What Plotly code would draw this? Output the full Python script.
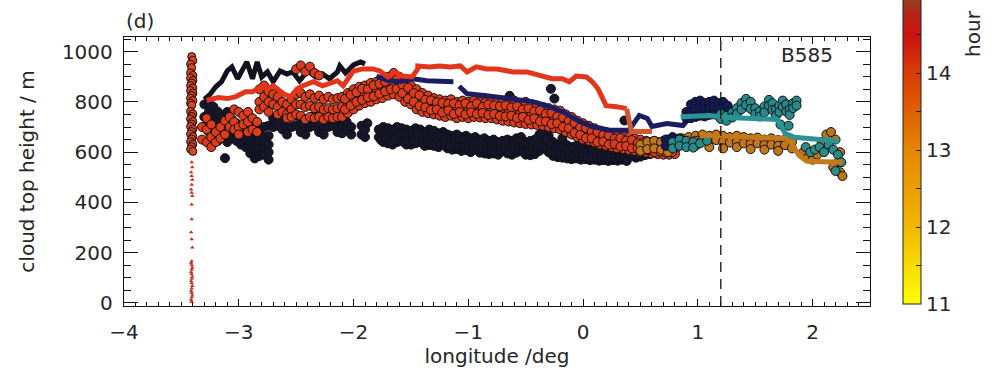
import plotly.graph_objects as go

# ---------------- data: longitude (deg) / cloud top height (m) ----------------

# small triangles (hour ~14.5) along the vertical profile near -3.41
tri_x = [-3.41, -3.405, -3.415, -3.41, -3.405, -3.41, -3.415, -3.41, -3.405, -3.41, -3.41,
         -3.415, -3.41, -3.405, -3.41, -3.415, -3.41, -3.405, -3.41, -3.415, -3.41, -3.405,
         -3.41, -3.415, -3.41, -3.405, -3.41, -3.415, -3.41, -3.405, -3.41, -3.415, -3.41]
tri_y = [560, 540, 520, 505, 490, 470, 451, 438, 426, 392, 333, 281, 254, 221, 166, 158,
         150, 140, 132, 122, 114, 104, 96, 86, 78, 68, 58, 48, 40, 30, 22, 12, 4]

# circles of the same profile
col_x = [-3.41, -3.40, -3.42, -3.41, -3.42, -3.40, -3.42, -3.40, -3.41, -3.42, -3.40, -3.42,
         -3.40, -3.41, -3.42, -3.40, -3.42, -3.41, -3.42, -3.40, -3.41, -3.42, -3.40, -3.41,
         -3.42, -3.40, -3.41, -3.42, -3.40, -3.41, -3.42, -3.40, -3.41, -3.42, -3.40]
col_y = [980, 965, 950, 936, 915, 905, 895, 885, 875, 865, 855, 845, 835, 825, 815, 805,
         795, 787, 762, 752, 742, 732, 722, 712, 702, 692, 682, 672, 662, 652, 642, 632,
         622, 612, 603]

# dark (late) retrievals, west part: station longitude -> heights found there
dark_w_x = [-3.30, -3.26, -3.22, -3.18, -3.14, -3.10, -3.06, -3.02, -2.98, -2.94, -2.90,
            -2.86, -2.82, -2.78, -2.74, -3.12,
            -2.70, -2.66, -2.62, -2.58, -2.54, -2.50, -2.46, -2.42, -2.38, -2.34, -2.30,
            -2.26, -2.22, -2.18, -2.14, -2.10, -2.06, -2.02, -1.93, -1.90, -1.88]
dark_w_y = [[790, 740, 700], [800, 760, 720, 680], [780, 740, 700, 660], [760, 720, 680, 645],
            [740, 700, 665], [760, 715, 675, 640], [730, 690, 655], [715, 680, 645],
            [700, 665, 630], [690, 650, 620], [700, 660, 625, 595], [680, 640, 605, 575],
            [690, 650, 615, 585], [700, 660, 620, 590], [705, 665, 630, 600, 570], [576],
            [735, 700], [745, 705], [720, 690], [700, 670], [740, 700], [745, 705], [715, 680],
            [700, 670], [735, 700], [745, 705], [715, 680], [700, 670], [735, 700], [745, 705],
            [715, 680], [705, 675], [720, 690], [700, 670], [705, 670], [690, 660], [715]]

# dark retrievals, main band
dark_b_x = [-1.78, -1.74, -1.70, -1.66, -1.62, -1.58, -1.54, -1.50, -1.46, -1.42, -1.38,
            -1.34, -1.30, -1.26, -1.22, -1.18, -1.14, -1.10, -1.06, -1.02, -0.98, -0.94,
            -0.90, -0.86, -0.82, -0.78, -0.74, -0.70, -0.66, -0.62, -0.58, -0.54, -0.50,
            -0.46, -0.42, -0.38, -0.34, -0.30, -0.26, -0.22, -0.18, -0.14, -0.10, -0.06,
            -0.02, 0.02, 0.06, 0.10, 0.14, 0.18, 0.22, 0.26, 0.30, 0.34, 0.38, 0.42, 0.46,
            0.50, 0.54, 0.58, 0.62, 0.66, 0.70, 0.74, 0.78, 0.82]
dark_b_y = [[690, 660], [700, 665, 640], [695, 660, 635], [690, 655, 630], [700, 665, 640],
            [695, 660], [690, 655, 630], [685, 655, 630], [695, 660, 635], [690, 655],
            [680, 650, 625], [690, 655, 628], [685, 650, 625], [675, 645, 620], [680, 648],
            [670, 640, 615], [665, 635, 610], [670, 640, 612], [660, 632, 605], [665, 635, 608],
            [655, 628, 600], [660, 630], [650, 622, 598], [655, 625, 595], [645, 618, 592],
            [650, 620, 595], [640, 615, 590], [645, 618], [650, 620, 595], [645, 615, 590],
            [655, 625, 598], [660, 632, 605], [640, 612, 590], [645, 615, 588], [650, 620, 592],
            [670, 638, 605], [690, 650, 615], [665, 630, 600], [640, 610, 585], [630, 605, 580],
            [625, 600, 578], [628, 602, 575], [620, 598, 572], [625, 600, 575], [618, 595, 570],
            [620, 596, 572], [615, 592, 568], [618, 594, 570], [612, 590, 566], [616, 592, 568],
            [610, 588, 565], [615, 590, 568], [612, 588, 566], [618, 592, 570], [615, 590, 568],
            [620, 595], [625, 600, 578], [630, 605, 582], [635, 610, 588], [640, 615, 592],
            [645, 620], [640, 615, 595], [645, 620], [650, 628], [655, 632], [650, 630]]
dark_m_x = [-1.76, -1.72, -1.68, -1.64, -1.60, -1.56, -1.52, -1.48, -1.44, -1.40, -1.36,
            -1.32, -1.28, -1.24, -1.20, -1.16, -1.12, -1.08, -1.04, -1.00, -0.96, -0.92,
            -0.88, -0.84, -0.80, -0.76, -0.72, -0.68, -0.64, -0.60, -0.56, -0.52, -0.48,
            -0.44, -0.40, -0.36, -0.32, -0.28, -0.24, -0.20, -0.16, -0.12, -0.08, -0.04,
            0.00, 0.04, 0.08, 0.12, 0.16, 0.20, 0.24, 0.28, 0.32, 0.36, 0.40, 0.44, 0.48,
            0.52, 0.56, 0.60, 0.64, 0.68, 0.72, 0.76, 0.80]
dark_m_y = [[682, 648], [678, 652], [672, 642], [684, 648], [676, 645], [670, 640], [668, 642],
            [675, 645], [672, 640], [668, 636], [670, 640], [664, 636], [660, 632], [662, 630],
            [655, 626], [650, 622], [654, 624], [648, 618], [650, 620], [642, 614], [646, 616],
            [638, 610], [640, 608], [632, 606], [636, 604], [630, 602], [634, 606], [636, 608],
            [630, 600], [640, 610], [645, 618], [628, 600], [630, 602], [636, 606], [655, 620],
            [670, 632], [652, 618], [624, 596], [618, 590], [614, 588], [615, 588], [610, 584],
            [612, 586], [606, 582], [608, 584], [604, 580], [606, 580], [602, 578], [604, 578],
            [600, 576], [602, 578], [600, 576], [604, 580], [602, 578], [608, 584], [612, 588],
            [618, 592], [622, 596], [626, 602], [632, 606], [628, 604], [632, 608], [638, 612],
            [640, 616], [642, 620]]

# isolated dark retrievals
dark_o_x = [-0.64, -0.28, -0.25, -0.18, 0.36, 0.38, -0.05]
dark_o_y = [824, 852, 813, 655, 726, 565, 700]

# red (hour ~14.5) retrievals
red_x = [-3.32, -3.28, -3.24, -3.20, -3.16, -3.12, -3.08, -3.04, -3.00, -2.96, -2.92, -2.88,
         -2.84,
         -2.82, -2.78, -2.74, -2.70, -2.66, -2.62, -2.58, -2.54, -2.50, -2.46, -2.42, -2.38,
         -2.34, -2.30, -2.26, -2.22, -2.18, -2.14,
         -2.50, -2.46, -2.42, -2.38, -2.34, -2.30,
         -2.10, -2.05, -2.00, -1.95, -1.90, -1.85, -1.80, -1.75, -1.70, -1.65, -1.60, -1.55,
         -1.50, -1.45, -1.40, -1.35, -1.30, -1.25, -1.20, -1.15, -1.10, -1.05, -1.00, -0.95,
         -0.90, -0.85, -0.80, -0.75, -0.70, -0.65, -0.60, -0.55, -0.50, -0.45, -0.40, -0.35,
         -0.30, -0.25, -0.20, -0.15, -0.10, -0.05, 0.00, 0.05, 0.10, 0.15, 0.20, 0.25, 0.30,
         0.35, 0.40, 0.45, 0.50, 0.55, 0.60, 0.65, 0.70, 0.75, 0.80]
red_y = [[700, 650], [735, 690, 640], [710, 660, 620], [680, 640], [700, 655], [725, 670],
         [740, 700], [770, 720, 690], [760, 700, 670], [745, 710], [760, 720, 680],
         [735, 690], [720, 680],
         [850, 800, 770], [865, 820, 780], [840, 800, 760], [830, 790], [820, 780, 750],
         [800, 760], [790, 750, 735], [810, 770, 740], [830, 790, 750], [835, 790, 745],
         [820, 780, 730], [830, 785, 740], [815, 775, 735], [825, 780, 740], [810, 770, 730],
         [820, 775, 740], [810, 770, 735], [815, 775, 740],
         [930], [945], [920], [940], [915], [905],
         [820, 780, 740], [835, 795, 755], [850, 810, 770], [860, 820, 785], [865, 830, 795],
         [875, 835, 800], [880, 845, 810], [890, 850, 815], [900, 860, 825], [915, 870, 830],
         [900, 860, 820], [880, 840, 800], [865, 830, 790], [850, 810, 770], [835, 800, 760],
         [825, 790, 755], [815, 785, 750], [810, 780, 745], [805, 775, 740], [810, 780, 745],
         [800, 770, 735], [805, 772, 740], [800, 768, 735], [805, 770, 740], [800, 768, 738],
         [798, 765, 735], [802, 768, 735], [800, 765, 730], [805, 762, 725], [800, 760, 722],
         [805, 760, 718], [795, 755, 715], [800, 752, 712], [790, 748, 710], [785, 745, 708],
         [780, 740, 705], [775, 735, 700], [770, 732, 695], [765, 725, 690], [750, 712, 680],
         [740, 705, 670], [725, 690, 660], [715, 680, 650], [705, 672, 645], [695, 665, 638],
         [685, 655, 630], [680, 650, 625], [672, 645, 620], [668, 640, 615], [662, 635, 612],
         [660, 632, 608], [655, 628, 605], [650, 622, 600], [645, 618, 598], [640, 615, 595],
         [635, 612, 592], [630, 610, 590], [625, 607, 590], [620, 605, 592]]
red_m_x = [-2.075, -2.025, -1.975, -1.925, -1.875, -1.825, -1.775, -1.725, -1.675, -1.625,
           -1.575, -1.525, -1.475, -1.425, -1.375, -1.325, -1.275, -1.225, -1.175, -1.125,
           -1.075, -1.025, -0.975, -0.925, -0.875, -0.825, -0.775, -0.725, -0.675, -0.625,
           -0.575, -0.525, -0.475, -0.425, -0.375, -0.325, -0.275, -0.225, -0.175, -0.125,
           -0.075, -0.025, 0.025, 0.075, 0.125, 0.175, 0.225, 0.275, 0.325, 0.375, 0.425,
           0.475, 0.525, 0.575, 0.625, 0.675, 0.725, 0.775]
red_m_y = [[812, 770], [828, 785], [838, 800], [852, 808], [850, 818], [866, 822], [872, 832],
           [880, 842], [895, 850], [888, 852], [868, 835], [856, 812], [835, 800], [826, 784],
           [808, 778], [806, 768], [798, 770], [796, 758], [792, 766], [794, 752], [786, 760],
           [794, 750], [782, 758], [794, 752], [780, 756], [790, 748], [786, 752], [782, 744],
           [786, 742], [778, 745], [782, 736], [770, 740], [774, 728], [762, 734], [766, 722],
           [752, 722], [756, 712], [742, 715], [738, 700], [724, 695], [716, 676], [698, 668],
           [696, 656], [682, 655], [680, 640], [668, 642], [666, 630], [654, 632], [656, 622],
           [646, 624], [648, 615], [636, 614], [638, 606], [628, 608], [630, 600], [620, 602],
           [622, 598], [612, 600]]

# blue patch (around the dashed line)
blue_x = [0.72, 0.78, 0.84, 0.90, 0.94, 0.98, 1.02, 1.06, 1.10, 1.14, 1.18, 1.22, 1.26]
blue_y = [[650, 625], [660, 632], [655, 628], [760, 735], [790, 760, 735], [800, 770, 740],
          [805, 775, 745], [795, 770, 742], [800, 775, 748], [805, 780, 750], [795, 770, 745],
          [800, 775], [785, 760]]

# teal retrievals
teal_x = [0.78, 0.84, 0.90, 0.96, 1.02, 1.08, 1.20, 1.25, 1.30, 1.34, 1.38, 1.42, 1.46, 1.50,
          1.54, 1.58, 1.62, 1.65, 1.68, 1.71, 1.74, 1.77, 1.80, 1.83, 1.86, 1.72, 1.79]
teal_y = [[640, 615], [650, 625], [645, 620], [640, 618], [635], [645], [752, 732],
          [745, 725], [758, 738], [775, 752], [795, 770], [812, 788], [800, 772], [775, 752],
          [762, 742], [782, 758], [808, 785], [795, 768], [770, 745], [785, 760], [805, 780],
          [790, 762], [770, 748], [795, 775], [805, 785], [710], [705]]

# orange-brown retrievals
orng_x = [0.50, 0.56, 0.62, 0.68, 0.74, 0.80, 0.86, 0.92, 0.98, 1.04, 1.10, 1.16, 1.22, 1.28,
          1.34, 1.40, 1.46, 1.52, 1.58, 1.64, 1.70, 1.76, 1.82]
orng_y = [[630, 605], [640, 612], [645, 615], [640, 610], [648, 618, 600], [650, 625],
          [655, 630], [660, 640], [665, 645, 625], [670, 650], [665, 645, 620], [670, 648],
          [665, 640, 615], [660, 638], [665, 642, 620], [660, 635], [655, 632, 612],
          [658, 635], [650, 628, 610], [655, 630], [648, 625, 605], [650, 628], [640, 615]]

# east end of the track
east_orng_x = [1.92, 1.96, 2.00, 2.04, 2.08, 2.12, 2.16, 2.20, 2.24, 2.22, 2.18, 2.24, 2.26]
east_orng_y = [600, 580, 570, 590, 640, 670, 680, 650, 600, 560, 540, 520, 505]
east_teal_x = [1.94, 1.98, 2.02, 2.06, 2.10, 2.14, 2.18, 2.22, 2.25, 2.20]
east_teal_y = [620, 600, 610, 620, 600, 630, 610, 590, 560, 525]

# mean-height tracks (thick lines)
zz_x = [-3.30, -3.25, -3.20, -3.15, -3.10, -3.06, -3.01, -2.97, -2.93, -2.88, -2.84, -2.80,
        -2.75, -2.70, -2.64, -2.58, -2.53, -2.47, -2.40, -2.33, -2.27, -2.21, -2.14, -2.12,
        -2.07, -2.00, -1.94, -1.90]
zz_y = [810, 830, 860, 880, 923, 939, 892, 931, 959, 892, 959, 899, 919, 880, 923, 911, 919,
        884, 923, 899, 911, 892, 919, 943, 915, 947, 959, 951]

navy_x = [-1.80, -1.70, -1.60, -1.48, -1.36, -1.19, -1.13, None, -1.08, -1.01, -0.84, -0.67,
          -0.44, -0.32, -0.18, -0.03, 0.08, 0.23, 0.40, 0.49, 0.56, 0.60, 0.73, 0.87, 0.90,
          1.01, 1.10]
navy_y = [903, 885, 880, 892, 884, 884, 880, None, 862, 832, 824, 813, 801, 785, 761, 722,
          702, 687, 687, 746, 734, 702, 714, 706, 722, 773, 780]

red_line_x = [-3.28, -3.18, -3.10, -3.03, -2.94, -2.88, -2.81, -2.75, -2.70, -2.61, -2.55,
              -2.49, -2.44, -2.35, -2.27, -2.18, -2.14, -2.09, -2.00, -1.92, -1.83, -1.77,
              -1.70, -1.64, -1.58, -1.49, -1.44, -1.44, -1.34, -1.25, -1.16, -1.07, -1.01,
              -0.93, -0.84, -0.75, -0.61, -0.49, -0.38, -0.27, -0.18, -0.12, -0.06, 0.03,
              0.08, 0.13, 0.16, 0.20, 0.29, 0.38]
red_line_y = [806, 817, 813, 820, 840, 840, 860, 852, 864, 832, 820, 852, 864, 880, 864, 880,
              884, 864, 923, 931, 931, 923, 899, 919, 903, 899, 931, 943, 939, 943, 939, 943,
              919, 939, 931, 931, 919, 919, 903, 892, 892, 880, 903, 899, 880, 852, 824, 785,
              781, 773]
red_tail_x = [0.38, 0.40, 0.42, 0.49, 0.60]
red_tail_y = [773, 722, 682, 682, 682]

teal_line_x = [0.85, 1.00, 1.10, 1.27, 1.40, 1.53, 1.69, 1.73, 1.76, 1.84, 2.06, 2.23]
teal_line_y = [741, 745, 746, 738, 736, 734, 730, 700, 675, 659, 651, 643]

orng_line_x = [1.02, 1.20, 1.36, 1.55, 1.77, 1.83, 1.88, 1.95, 2.10, 2.26]
orng_line_y = [667, 662, 659, 657, 655, 625, 588, 564, 562, 560]

edge_lon = 1.2                      # dashed marker longitude
x_ticks = [-4, -3, -2, -1, 0, 1, 2]
y_ticks = [0, 200, 400, 600, 800, 1000]
hour_ticks = [11, 11.5, 12, 12.5, 13, 13.5, 14, 14.5, 15, 15.5]
hour_text = ["11", "", "12", "", "13", "", "14", "", "15", ""]


def flatten(xs, ys):
    fx, fy = [], []
    for x, col in zip(xs, ys):
        for y in col:
            fx.append(x)
            fy.append(y)
    return fx, fy


def merge(*parts):
    fx, fy = [], []
    for xs, ys in parts:
        fx += xs
        fy += ys
    return fx, fy


# ---------------- styling ----------------
FONT = "DejaVu Sans"
TXT = "#262626"
EDGE = dict(color="#111111", width=1)
MS = 9

hour_scale = [
    [0.0, "#ffff00"], [0.1087, "#f8dc00"], [0.2174, "#f2b800"], [0.326, "#ec9e00"],
    [0.4348, "#e68600"], [0.5435, "#e06000"], [0.6522, "#d83c08"], [0.7609, "#cc1010"],
    [0.826, "#b02818"], [0.8696, "#8c4426"], [1.0, "#4a3020"],
]

fig = go.Figure()


def cloud(xs, ys, color, size=MS):
    fig.add_trace(go.Scatter(x=xs, y=ys, mode="markers", showlegend=False, hoverinfo="skip",
                             marker=dict(size=size, color=color, line=EDGE)))


def track(xs, ys, color, width=5):
    fig.add_trace(go.Scatter(x=xs, y=ys, mode="lines", showlegend=False, hoverinfo="skip",
                             line=dict(color=color, width=width), connectgaps=False))


dark_pts = merge(flatten(dark_w_x, dark_w_y), flatten(dark_b_x, dark_b_y),
                 flatten(dark_m_x, dark_m_y), (dark_o_x, dark_o_y))
red_pts = merge(flatten(red_x, red_y), flatten(red_m_x, red_m_y))

cloud(*dark_pts, "#15152c")
track(zz_x, zz_y, "#11111f")
cloud(*red_pts, "#dd3c1c")
track(navy_x, navy_y, "#1b1c62")
track(red_line_x, red_line_y, "#e3341c")
track(red_tail_x, red_tail_y, "#d2582c")
cloud(*flatten(orng_x, orng_y), "#c4761c")
cloud(*flatten(blue_x, blue_y), "#111a5a")
cloud(*flatten(teal_x, teal_y), "#28898b")
cloud(east_orng_x, east_orng_y, "#b8741e")
cloud(east_teal_x, east_teal_y, "#2f8a86")
track(orng_line_x, orng_line_y, "#c27a1a")
track(teal_line_x, teal_line_y, "#2a9494")
cloud(col_x, col_y, "#e04420", size=8)
fig.add_trace(go.Scatter(x=tri_x, y=tri_y, mode="markers", showlegend=False, hoverinfo="skip",
                         marker=dict(symbol="triangle-up", size=4, color="#c8301e")))

# colour bar for the hour of observation
fig.add_trace(go.Scatter(
    x=[-10], y=[-1000], mode="markers", showlegend=False, hoverinfo="skip",
    marker=dict(color=[13], cmin=11, cmax=15.6, colorscale=hour_scale, showscale=True,
                colorbar=dict(thickness=18, thicknessmode="pixels", len=354, lenmode="pixels",
                              x=1.0442, xanchor="left", y=0.0074, yanchor="bottom",
                              xpad=0, ypad=0, outlinewidth=1, outlinecolor="#222",
                              tickmode="array", tickvals=hour_ticks, ticktext=hour_text,
                              ticks="inside", ticklen=5, tickcolor="#222",
                              tickfont=dict(family=FONT, size=20, color=TXT))),
))

fig.add_shape(type="line", xref="x", yref="paper", x0=edge_lon, x1=edge_lon, y0=0, y1=1,
              line=dict(color="#111", width=1.3, dash="10px,7px"))

axis_common = dict(showline=True, linecolor="#111", linewidth=1.4, mirror="ticks",
                   ticks="inside", tickcolor="#111", tickwidth=1.2, showgrid=False,
                   zeroline=False, tickfont=dict(family=FONT, size=20, color=TXT))

fig.update_xaxes(range=[-4, 2.5], tickvals=x_ticks, ticklen=7,
                 minor=dict(dtick=0.1, ticklen=4, ticks="inside", tickcolor="#111"),
                 ticklabelstandoff=8,
                 title=dict(text="longitude /deg", standoff=4,
                            font=dict(family=FONT, size=20, color=TXT)),
                 **axis_common)
fig.update_yaxes(range=[-12, 1058], tickvals=y_ticks, ticklen=14,
                 minor=dict(dtick=50, ticklen=7, ticks="inside", tickcolor="#111"),
                 ticklabelstandoff=6,
                 title=dict(text="cloud top height / m", standoff=21,
                            font=dict(family=FONT, size=20, color=TXT)),
                 **axis_common)

fig.add_annotation(text="(d)", xref="paper", yref="paper", x=0.0, y=1.0, xanchor="left",
                   yanchor="bottom", yshift=2, showarrow=False,
                   font=dict(family=FONT, size=20, color=TXT))
fig.add_annotation(text="B585", xref="paper", yref="paper", x=0.953, y=0.933,
                   xanchor="right", yanchor="middle", showarrow=False,
                   font=dict(family=FONT, size=20, color=TXT))
fig.add_annotation(text="hour", xref="paper", yref="paper", x=1.138, y=1.0,
                   xanchor="center", yanchor="middle", yshift=4, textangle=-90,
                   showarrow=False, font=dict(family=FONT, size=20, color=TXT))

fig.update_layout(width=996, height=377, plot_bgcolor="white", paper_bgcolor="white",
                  margin=dict(l=124, r=126, t=37, b=71, autoexpand=False))

fig.write_html("out.html")
